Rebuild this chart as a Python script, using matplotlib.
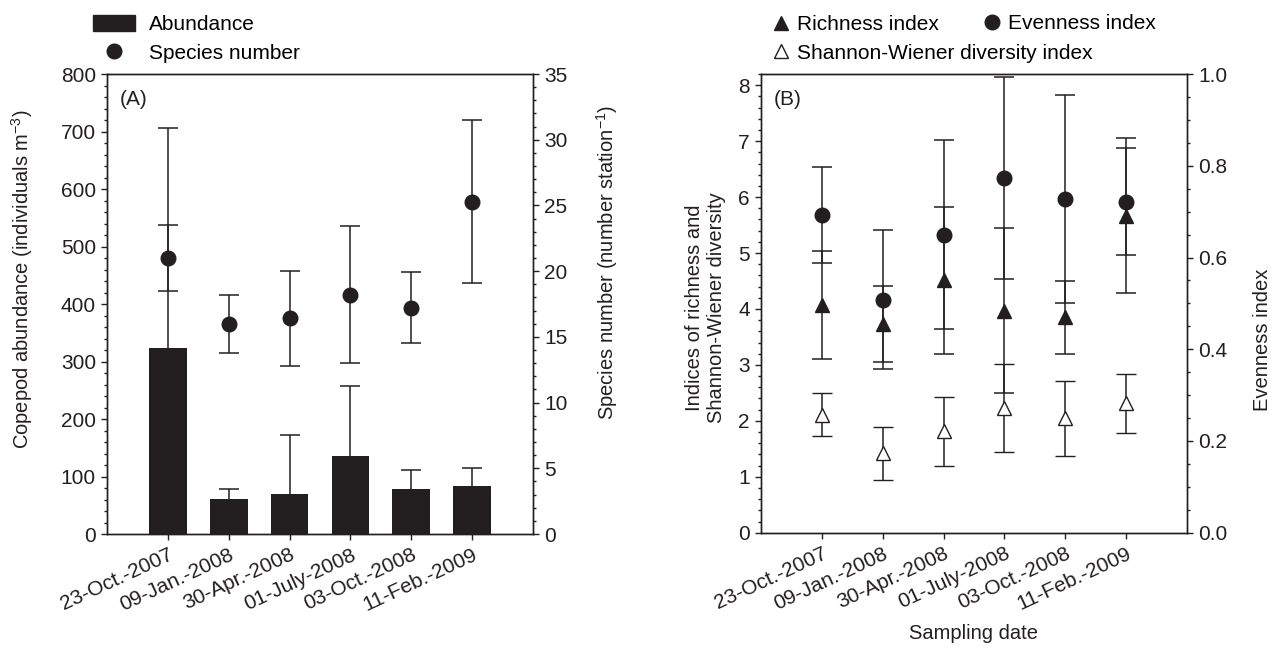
import numpy as np
import matplotlib
matplotlib.use('Agg')
import matplotlib.pyplot as plt
from matplotlib.lines import Line2D
from matplotlib.patches import Patch
from matplotlib.ticker import MultipleLocator, FormatStrFormatter

plt.rcParams['font.family'] = ['Liberation Sans', 'DejaVu Sans']
plt.rcParams['axes.linewidth'] = 1.0
plt.rcParams['mathtext.default'] = 'regular'

dates = ['23-Oct.-2007', '09-Jan.-2008', '30-Apr.-2008',
         '01-July-2008', '03-Oct.-2008', '11-Feb.-2009']

# panel A
abundance = [323, 61, 70, 135, 78, 83]
abundance_sd = [383, 17, 102, 122, 33, 32]
species = [21.0, 16.0, 16.4, 18.2, 17.2, 25.3]
species_sd = [2.5, 2.2, 3.6, 5.2, 2.7, 6.2]

# panel B
richness = [4.07, 3.73, 4.51, 3.97, 3.85, 5.67]
richness_sd = [0.96, 0.68, 1.32, 1.47, 0.65, 1.39]
shannon = [2.11, 1.42, 1.81, 2.23, 2.05, 2.31]
shannon_sd = [0.38, 0.47, 0.61, 0.79, 0.67, 0.52]
evenness = [0.693, 0.508, 0.650, 0.773, 0.728, 0.722]
evenness_sd = [0.104, 0.152, 0.206, 0.220, 0.227, 0.116]

fs = 15
lfs = 14.5
dark = '#231f20'
x = np.arange(1, len(dates) + 1)
ebkw = dict(ecolor=dark, elinewidth=1.1, capsize=7, capthick=1.1)


def style_axis(ax):
    ax.tick_params(axis='both', which='major', direction='out', length=4.5,
                   width=1, labelsize=fs, colors=dark)
    ax.tick_params(axis='both', which='minor', direction='out', length=2.5,
                   width=1, colors=dark)
    for s in ax.spines.values():
        s.set_color(dark)


fig = plt.figure(figsize=(12.74, 6.58), dpi=100)

# ---------- (A) ----------
axA = fig.add_axes([0.084, 0.1884, 0.3344, 0.6991])
axA2 = axA.twinx()

axA.bar(x, abundance, width=0.62, color=dark, zorder=2)
eb = axA.errorbar(x, abundance, yerr=[np.zeros(len(x)), abundance_sd],
                  fmt='none', zorder=1, **ebkw)
eb[1][0].set_visible(False)   # no cap at the bar top
axA2.errorbar(x, species, yerr=species_sd, fmt='o', color=dark,
              markersize=10.5, **ebkw)

axA.set_xlim(0, 7)
axA.set_ylim(0, 800)
axA2.set_ylim(0, 35)
axA.yaxis.set_major_locator(MultipleLocator(100))
axA.yaxis.set_minor_locator(MultipleLocator(20))
axA2.yaxis.set_major_locator(MultipleLocator(5))
axA2.yaxis.set_minor_locator(MultipleLocator(1))
axA.set_xticks(x)
axA.set_xticklabels(dates, rotation=25, ha='right', rotation_mode='anchor')
style_axis(axA)
style_axis(axA2)
axA.set_ylabel('Copepod abundance (individuals m$^{-3}$)', fontsize=lfs,
               color=dark)
axA.yaxis.set_label_coords(-0.17, 0.555)
axA2.set_ylabel('Species number (number station$^{-1}$)', fontsize=lfs,
                color=dark)
axA2.yaxis.set_label_coords(1.143, 0.59)
axA.text(0.03, 0.965, '(A)', transform=axA.transAxes, fontsize=fs,
         va='top', color=dark)

handlesA = [Patch(facecolor=dark, edgecolor=dark),
            Line2D([], [], marker='o', linestyle='none', color=dark, markersize=10.5)]
axA.legend(handlesA, ['Abundance', 'Species number'], loc='lower left',
           bbox_to_anchor=(-0.06, 1.0), frameon=False, fontsize=fs,
           handlelength=2.0, handleheight=0.8, labelspacing=0.45,
           handletextpad=0.7, borderaxespad=0.15)

# ---------- (B) ----------
axB = fig.add_axes([0.5973, 0.1904, 0.3344, 0.6971])
axB2 = axB.twinx()

axB.errorbar(x, richness, yerr=richness_sd, fmt='^', color=dark,
             markersize=10, **ebkw)
axB.errorbar(x, shannon, yerr=shannon_sd, fmt='^', color=dark,
             markerfacecolor='white', markeredgecolor=dark, markersize=10,
             markeredgewidth=1.0, **ebkw)
axB2.errorbar(x, evenness, yerr=evenness_sd, fmt='o', color=dark,
              markersize=10.5, **ebkw)

axB.set_xlim(0, 7)
axB.set_ylim(0, 8.2)
axB2.set_ylim(0, 1.0)
axB.yaxis.set_major_locator(MultipleLocator(1))
axB.yaxis.set_minor_locator(MultipleLocator(0.2))
axB2.yaxis.set_major_locator(MultipleLocator(0.2))
axB2.yaxis.set_minor_locator(MultipleLocator(0.05))
axB2.yaxis.set_major_formatter(FormatStrFormatter('%.1f'))
axB.set_xticks(x)
axB.set_xticklabels(dates, rotation=25, ha='right', rotation_mode='anchor')
style_axis(axB)
style_axis(axB2)
axB.set_ylabel('Indices of richness and\nShannon-Wiener diversity',
               fontsize=lfs, color=dark)
axB.yaxis.set_label_coords(-0.082, 0.49)
axB2.set_ylabel('Evenness index', fontsize=lfs, color=dark)
axB2.yaxis.set_label_coords(1.155, 0.42)
axB.set_xlabel('Sampling date', fontsize=lfs, color=dark, labelpad=8)
axB.text(0.03, 0.965, '(B)', transform=axB.transAxes, fontsize=fs,
         va='top', color=dark)

h_rich = Line2D([], [], marker='^', linestyle='none', color=dark, markersize=10)
h_even = Line2D([], [], marker='o', linestyle='none', color=dark, markersize=10.5)
h_shan = Line2D([], [], marker='^', linestyle='none', color=dark,
                markerfacecolor='white', markersize=10)
legB = axB.legend([h_rich, h_shan],
                  ['Richness index', 'Shannon-Wiener diversity index'],
                  loc='lower left', bbox_to_anchor=(0.0, 1.0),
                  frameon=False, fontsize=fs, handlelength=0.8,
                  handletextpad=0.4, labelspacing=0.45, borderaxespad=0.15)
axB.add_artist(legB)
axB.legend([h_even], ['Evenness index'], loc='lower left',
           bbox_to_anchor=(0.495, 1.064), frameon=False, fontsize=fs,
           handlelength=0.8, handletextpad=0.4, borderaxespad=0.15)

plt.savefig('out.png', dpi=100)
